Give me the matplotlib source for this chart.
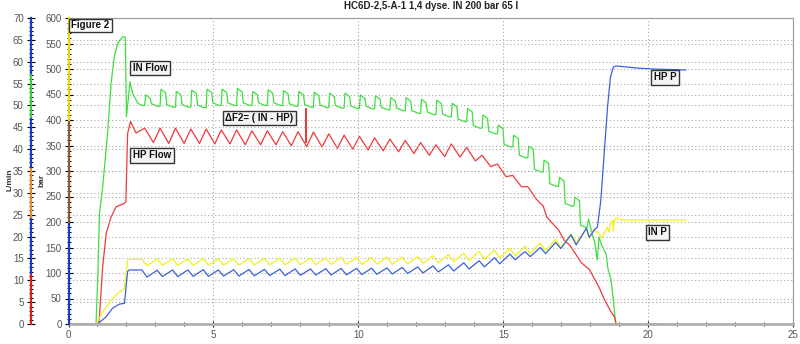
import matplotlib
matplotlib.use("Agg")
import matplotlib.pyplot as plt
from matplotlib.ticker import MultipleLocator

plt.rcParams['font.family'] = ['Liberation Sans', 'DejaVu Sans']

title = "HC6D-2,5-A-1 1,4 dyse. IN 200 bar 65 l"

# pump cycle start times (s)
cycle_t = [2.10, 2.63, 3.16, 3.69, 4.22, 4.75, 5.27, 5.80, 6.33, 6.86, 7.39,
           7.92, 8.45, 8.98, 9.51, 10.04, 10.56, 11.09, 11.62, 12.15, 12.68,
           13.21, 13.74, 14.27, 14.80, 15.33, 15.85, 16.38, 16.91, 17.44, 17.97]

# ---- IN Flow (L/min) ----
green_ramp_t = [0.0, 0.95, 1.01, 1.07, 1.18, 1.35, 1.47, 1.58, 1.70, 1.87, 1.96, 2.00, 2.12, 2.21, 2.39, 2.55]
green_ramp_v = [0.0, 0.0, 10.8, 25.3, 31.4, 43.7, 55.1, 61.2, 64.2, 65.7, 65.6, 47.4, 55.4, 52.8, 50.5, 50.0]
green_pk = [52.4, 53.7, 53.2, 53.5, 53.7, 53.7, 53.9, 53.2, 53.6, 53.4, 53.2, 53.0, 52.8, 52.8, 52.4,
            52.2, 51.8, 51.8, 51.4, 51.2, 50.5, 49.3, 47.8, 45.5, 43.2, 40.7, 37.5, 33.5, 29.0]
green_tr = [49.8, 49.6, 49.6, 49.5, 50.0, 50.0, 50.0, 50.0, 50.0, 49.8, 49.6, 49.5, 49.4, 49.3, 49.2,
            49.0, 48.8, 48.2, 47.9, 47.4, 46.3, 44.8, 43.5, 40.5, 38.0, 34.8, 31.5, 27.0, 22.0]
green_tail_t = [17.95, 18.05, 18.15, 18.25, 18.30, 18.40, 18.55, 18.62, 18.72, 18.80, 18.88, 20.7]
green_tail_v = [24.0, 21.0, 19.0, 14.6, 19.9, 18.0, 16.0, 12.4, 10.1, 5.5, 0.0, 0.0]

# ---- HP Flow (L/min) ----
red_ramp_t = [0.0, 1.05, 1.18, 1.30, 1.47, 1.64, 1.93, 1.98, 2.04, 2.14, 2.33]
red_ramp_v = [0.0, 0.0, 13.1, 20.7, 24.5, 26.8, 27.6, 28.0, 43.6, 46.3, 43.7]
red_pk = [44.8, 44.8, 44.8, 44.6, 44.6, 44.4, 44.4, 44.2, 44.2, 44.0, 44.0, 43.9, 43.5,
          43.2, 42.9, 42.6, 42.3, 42.0, 41.5, 41.0, 41.2, 40.4, 38.6, 36.6, 34.0, 31.4]
red_tr = [41.5, 41.3, 41.3, 41.3, 41.2, 41.2, 41.0, 41.0, 41.0, 40.8, 40.6, 40.5, 40.2,
          40.0, 39.8, 39.6, 39.4, 39.0, 38.6, 38.3, 38.2, 37.3, 36.0, 33.7, 31.4, 28.5]
red_tail_t = [16.38, 16.50, 16.70, 16.91, 17.10, 17.30, 17.50, 17.70, 17.97, 18.30, 18.50, 18.70, 18.85, 18.90]
red_tail_v = [27.0, 24.5, 23.0, 21.5, 19.2, 18.0, 16.0, 14.0, 12.5, 8.5, 5.5, 3.0, 1.5, 0.0]

# ---- IN P (bar) ----
yel_ramp_t = [0.0, 0.95, 1.18, 1.52, 1.76, 1.93, 2.04, 2.10, 2.35]
yel_ramp_v = [0.0, 0.0, 24, 50, 63, 70, 125, 127, 127]
yel_pk = [127, 127.5, 128, 127.5, 128, 127.5, 128, 128, 128.5, 129, 129, 129.5, 129.5, 130, 130,
          130.5, 131, 131, 132, 134, 136, 139, 142, 145, 148, 152, 159, 166, 176]
yel_tr = [114, 115, 115, 115, 115.5, 115.5, 115.5, 116, 116, 116, 116.5, 116.5, 117, 117, 117,
          117.5, 117.5, 118, 119, 120, 122, 124, 127, 130, 134, 138, 144, 150, 160]
yel_tail_t = [17.87, 17.97, 18.10, 18.30, 18.40, 18.60, 18.65, 18.72, 18.78, 18.80, 18.83, 18.90, 19.05, 21.3]
yel_tail_v = [186, 168, 184, 178, 169, 190, 180, 200, 203, 182, 203, 208, 204, 204]

# ---- HP P (bar) ----
blue_ramp_t = [0.0, 1.00, 1.30, 1.52, 1.76, 1.93, 2.04, 2.10, 2.35]
blue_ramp_v = [0.0, 0.0, 14, 31, 39, 40.5, 103, 106, 106]
blue_pk = [106, 105.5, 106, 106, 106.5, 106, 106.5, 107, 107, 107.5, 108, 108, 108.5, 109, 109,
           109.5, 110, 111, 112, 114, 116, 120, 124, 130, 137, 142, 150, 160, 175]
blue_tr = [92, 93, 93, 93.5, 93.5, 94, 94, 94.5, 95, 95, 95.5, 96, 96, 96.5, 97,
           97.5, 98, 99, 100, 102, 104, 108, 112, 118, 126, 132, 138, 148, 155]
blue_tail_t = [17.87, 17.97, 18.15, 18.25, 18.37, 18.50, 18.60, 18.70, 18.80, 18.90, 19.60, 20.15, 21.3]
blue_tail_v = [188, 170, 185, 190, 243, 347, 425, 484, 504, 506, 502, 500, 498]

# delta-F marker (L/min)
delta_t = 8.18
delta_lo, delta_hi = 41.7, 49.1

# annotation label anchors: (text, x [s], y [bar])
labels = [("IN Flow", 2.22, 502), ("HP Flow", 2.22, 331), ("\u0394F2= ( IN - HP)", 5.4, 404),
          ("HP P", 20.2, 484), ("IN P", 20.0, 180)]

C_GREEN = '#3ee03e'
C_RED = '#f03a3a'
C_BLUE = '#3a62dc'
C_YEL = '#f2f21a'


def pulse_wave(ts, pk, tr, prev):
    xs, ys = [], []
    for t, p, r in zip(ts, pk, tr):
        xs += [t, t + 0.03, t + 0.19, t + 0.23, t + 0.45]
        ys += [prev, p, p - 0.8, r + 0.6, r]
        prev = r
    return xs, ys


def tri_wave(ts, pk, tr, d_pk, d_tr):
    xs, ys = [], []
    for t, p, r in zip(ts, pk, tr):
        xs += [t + d_pk, t + d_tr]
        ys += [p, r]
    return xs, ys


fig = plt.figure(figsize=(8, 3.44), dpi=100)
L, R, B, T = 68.5, 793, 324, 18
ax = fig.add_axes([L / 800, 1 - B / 344, (R - L) / 800, (B - T) / 344])
ax2 = ax.twinx()
ax2.set_zorder(ax.get_zorder() - 1)
ax.patch.set_visible(False)
ax2.patch.set_facecolor('white')

# flows on L/min axis
gx, gy = pulse_wave(cycle_t[1:30], green_pk, green_tr, green_ramp_v[-1])
ax2.plot(green_ramp_t + gx + green_tail_t, green_ramp_v + gy + green_tail_v, color=C_GREEN, lw=0.9)
rx, ry = tri_wave(cycle_t[1:27], red_pk, red_tr, 0.0, 0.30)
ax2.plot(red_ramp_t + rx + red_tail_t, red_ramp_v + ry + red_tail_v, color=C_RED, lw=0.9)
ax2.plot([delta_t, delta_t], [delta_lo, delta_hi], color='#ee1111', lw=1.2)

# pressures on bar axis
yx, yy = tri_wave(cycle_t[1:30], yel_pk, yel_tr, -0.10, 0.08)
ax.plot(yel_ramp_t + yx + yel_tail_t, yel_ramp_v + yy + yel_tail_v, color=C_YEL, lw=0.9)
bx, by = tri_wave(cycle_t[1:30], blue_pk, blue_tr, -0.10, 0.08)
ax.plot(blue_ramp_t + bx + blue_tail_t, blue_ramp_v + by + blue_tail_v, color=C_BLUE, lw=0.9)

ax.set_xlim(0, 25)
ax.set_ylim(0, 600)
ax2.set_ylim(0, 70)

ax.xaxis.set_major_locator(MultipleLocator(5))
ax.xaxis.set_minor_locator(MultipleLocator(1))
ax.yaxis.set_major_locator(MultipleLocator(50))
ax.yaxis.set_minor_locator(MultipleLocator(10))
ax2.yaxis.set_major_locator(MultipleLocator(5))
ax2.yaxis.set_minor_locator(MultipleLocator(1))

grid_kw = dict(color='#a8a8a8', lw=0.8, ls=(0, (1, 2.2)))
ax.grid(True, which='major', axis='both', **grid_kw)
ax2.grid(True, which='major', axis='y', **grid_kw)

# L/min axis on the far left
x_lmin = -(L - 30.7) / (R - L)
ax2.yaxis.set_ticks_position('left')
ax2.yaxis.set_label_position('left')
ax2.spines['left'].set_position(('axes', x_lmin))
for s in ['right', 'top', 'bottom', 'left']:
    ax2.spines[s].set_visible(False)
ax.spines['left'].set_visible(False)
ax.spines['top'].set_color('#9a9a9a')
ax.spines['right'].set_color('#9a9a9a')
ax.spines['bottom'].set_color('#b0b0b0')
ax.spines['bottom'].set_linewidth(2)

for a in (ax, ax2):
    a.tick_params(axis='y', which='major', direction='inout', length=6, width=0.8,
                  color='black', labelsize=7, labelcolor='#555555', pad=2)
    a.tick_params(axis='y', which='minor', direction='inout', length=3.5, width=0.7, color='black')
ax.tick_params(axis='x', which='major', direction='inout', length=5, width=0.8, color='#222',
               labelsize=7, labelcolor='#555555', pad=2)
ax.tick_params(axis='x', which='minor', direction='inout', length=3.5, width=0.8, color='#222')

# coloured axis lines
bar_bounds = [0, 200, 400, 600]
bar_cols = ['#1a3cc0', '#8b5a2b', '#e6d800']
for (a0, a1), c in zip(zip(bar_bounds[:-1], bar_bounds[1:]), bar_cols):
    ax.plot([0, 0], [a0, a1], color=c, lw=1.6, transform=ax.get_yaxis_transform(), clip_on=False, zorder=5)
lmin_bounds = [0, 11.6, 24.5, 36, 47.4, 57.4, 70]
lmin_cols = ['#d42020', '#1a3cc0', '#e38a2a', '#1a3cc0', '#3ccc3c', '#1a3cc0']
for (a0, a1), c in zip(zip(lmin_bounds[:-1], lmin_bounds[1:]), lmin_cols):
    ax2.plot([x_lmin, x_lmin], [a0, a1], color=c, lw=1.6, transform=ax2.get_yaxis_transform(), clip_on=False)

box = dict(boxstyle='square,pad=0.25', fc='#f4f4f4', ec='#333333', lw=1.0)
for txt, xv, yv in labels:
    ax.text(xv, yv, txt, fontsize=7, fontweight='bold', color='#111', va='center', ha='left', bbox=box, zorder=6)
ax.text(0.004, 0.992, "Figure 2", transform=ax.transAxes, fontsize=7, fontweight='bold', color='#111',
        va='top', ha='left', bbox=dict(boxstyle='square,pad=0.2', fc='white', ec='#333333', lw=1.0), zorder=6)

fig.text((L + R) / 2 / 800, 1 - 6 / 344, title, ha='center', va='center', fontsize=7, fontweight='bold', color='#222')
fig.text(10 / 800, 1 - 180 / 344, "L/min", rotation=90, ha='center', va='center', fontsize=6, fontweight='bold', color='#333')
fig.text(42 / 800, 1 - 180 / 344, "bar", rotation=90, ha='center', va='center', fontsize=6, fontweight='bold', color='#333')

fig.savefig("out.png", dpi=100)
